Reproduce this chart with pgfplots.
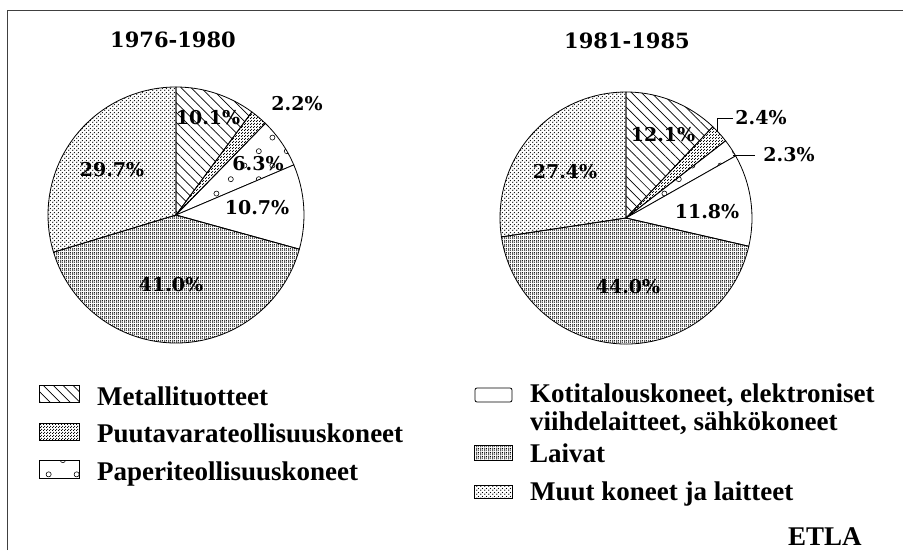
\documentclass[border=0pt]{standalone}
\usepackage{pgfplots}
\pgfplotsset{compat=1.18}
\usepackage{fontspec}
\setmainfont{Liberation Serif}
\newfontfamily\dvs{DejaVu Serif}
\usetikzlibrary{patterns,patterns.meta}

% fine dense dots (Puutavarateollisuuskoneet)
\pgfdeclarepatternformonly{pdense}{\pgfqpoint{0pt}{0pt}}{\pgfqpoint{2.5pt}{2.5pt}}{\pgfqpoint{2.5pt}{2.5pt}}{%
  \pgfpathcircle{\pgfqpoint{0.62pt}{0.62pt}}{0.68pt}%
  \pgfpathcircle{\pgfqpoint{1.87pt}{1.87pt}}{0.68pt}%
  \pgfusepath{fill}}
% light dots (Muut)
\pgfdeclarepatternformonly{plight}{\pgfqpoint{0pt}{0pt}}{\pgfqpoint{4pt}{4pt}}{\pgfqpoint{4pt}{4pt}}{%
  \pgfpathcircle{\pgfqpoint{1pt}{1pt}}{0.8pt}%
  \pgfpathcircle{\pgfqpoint{3pt}{3pt}}{0.8pt}%
  \pgfusepath{fill}}
% vertical lines + dots (Laivat)
\pgfdeclarepatternformonly{pgrid}{\pgfqpoint{0pt}{0pt}}{\pgfqpoint{4pt}{4pt}}{\pgfqpoint{4pt}{4pt}}{%
  \pgfsetlinewidth{1pt}%
  \pgfpathmoveto{\pgfqpoint{1pt}{0pt}}\pgfpathlineto{\pgfqpoint{1pt}{4pt}}\pgfusepath{stroke}%
  \pgfpathcircle{\pgfqpoint{3pt}{1pt}}{0.7pt}%
  \pgfpathcircle{\pgfqpoint{3pt}{3pt}}{0.7pt}\pgfusepath{fill}}
% open circles (Paperiteollisuuskoneet)
\pgfdeclarepatternformonly{pcirc}{\pgfqpoint{0pt}{0pt}}{\pgfqpoint{28pt}{28pt}}{\pgfqpoint{28pt}{28pt}}{%
  \pgfsetlinewidth{0.6pt}%
  \pgfpathcircle{\pgfqpoint{7pt}{7pt}}{2.6pt}%
  \pgfpathcircle{\pgfqpoint{21pt}{21pt}}{2.6pt}%
  \pgfusepath{stroke}}

\tikzset{
  sMet/.style={pattern={Lines[angle=-45,distance=7pt,line width=0.7pt]}},
  sPuu/.style={pattern=pdense},
  sPap/.style={pattern=pcirc},
  sKot/.style={fill=white},
  sLai/.style={pattern=pgrid},
  sMuu/.style={pattern=plight},
  pct/.style={font=\dvs\bfseries\fontsize{19}{21}\selectfont, inner sep=0pt},
  ttl/.style={font=\dvs\bfseries\fontsize{21}{23}\selectfont, inner sep=0pt},
  leg/.style={font=\bfseries\fontsize{27}{29}\selectfont, inner sep=0pt, anchor=base west, align=left},
}

% cx, cy, radius, share before, share, style
\newcommand{\slice}[6]{%
  \filldraw[#6, draw=black, line width=0.8pt] (axis cs:#1,#2) -- ++({90-3.6*(#4)}:#3pt)
    arc[start angle={90-3.6*(#4)}, delta angle={-3.6*(#5)}, radius=#3pt] -- cycle;}

\begin{document}
\begin{tikzpicture}
\useasboundingbox (0,0) rectangle (903pt,550pt);
\begin{axis}[x=1pt,y=1pt,xmin=0,xmax=903,ymin=0,ymax=550,hide axis,clip=false,
  at={(0,0)},anchor=south west]

% frame
\draw[black!75, line width=0.8pt] (axis cs:7,0) -- (axis cs:7,540) -- (axis cs:903,540);

% ---- Pie 1976-1980 ----
\slice{176}{335}{128}{0}{10.1}{sMet}
\slice{176}{335}{128}{10.1}{2.2}{sPuu}
\slice{176}{335}{128}{10.1+2.2}{6.3}{sPap}
\slice{176}{335}{128}{10.1+2.2+6.3}{10.7}{sKot}
\slice{176}{335}{128}{10.1+2.2+6.3+10.7}{41.0}{sLai}
\slice{176}{335}{128}{10.1+2.2+6.3+10.7+41.0}{29.7}{sMuu}
\node[ttl] at (axis cs:173,510) {1976-1980};
\node[pct] at (axis cs:208,432) {10.1\%};
\node[pct] at (axis cs:297,446) {2.2\%};
\node[pct] at (axis cs:258,386) {6.3\%};
\node[pct] at (axis cs:257,342) {10.7\%};
\node[pct] at (axis cs:171,265) {41.0\%};
\node[pct] at (axis cs:112,380) {29.7\%};

% ---- Pie 1981-1985 ----
\slice{626}{332}{126}{0}{12.1}{sMet}
\slice{626}{332}{126}{12.1}{2.4}{sPuu}
\slice{626}{332}{126}{12.1+2.4}{2.3}{sPap}
\slice{626}{332}{126}{12.1+2.4+2.3}{11.8}{sKot}
\slice{626}{332}{126}{12.1+2.4+2.3+11.8}{44.0}{sLai}
\slice{626}{332}{126}{12.1+2.4+2.3+11.8+44.0}{27.4}{sMuu}
\node[ttl] at (axis cs:627,509) {1981-1985};
\node[pct] at (axis cs:663,415) {12.1\%};
\draw[line width=0.7pt] (axis cs:717,418) -- (axis cs:717,432) -- (axis cs:733,432);
\node[pct] at (axis cs:761,432) {2.4\%};
\draw[line width=0.7pt] (axis cs:733,395) -- (axis cs:755,395);
\node[pct] at (axis cs:789,395) {2.3\%};
\node[pct] at (axis cs:707,338) {11.8\%};
\node[pct] at (axis cs:628,263) {44.0\%};
\node[pct] at (axis cs:565,378) {27.4\%};

% ---- Legend ----
\filldraw[sMet, draw=black, line width=0.8pt] (axis cs:39,148) rectangle (axis cs:79,165);
\node[leg] at (axis cs:97,145) {Metallituotteet};
\filldraw[sPuu, draw=black, line width=0.8pt] (axis cs:39,110) rectangle (axis cs:79,127);
\node[leg] at (axis cs:97,108) {Puutavarateollisuuskoneet};
\filldraw[sPap, draw=black, line width=0.8pt] (axis cs:39,72) rectangle (axis cs:79,90);
\node[leg] at (axis cs:97,70) {Paperiteollisuuskoneet};

\filldraw[sKot, draw=black, line width=0.8pt, rounded corners=2pt] (axis cs:475,148) rectangle (axis cs:512,162);
\node[leg] at (axis cs:530,148) {Kotitalouskoneet, elektroniset};
\node[leg] at (axis cs:530,120) {viihdelaitteet, sähkökoneet};
\filldraw[sLai, draw=black, line width=0.8pt] (axis cs:474,90) rectangle (axis cs:512,105);
\node[leg] at (axis cs:530,88) {Laivat};
\filldraw[sMuu, draw=black, line width=0.8pt] (axis cs:474,52) rectangle (axis cs:512,65);
\node[leg] at (axis cs:530,50) {Muut koneet ja laitteet};
\node[leg] at (axis cs:788,5) {ETLA};
\end{axis}
\end{tikzpicture}
\end{document}
